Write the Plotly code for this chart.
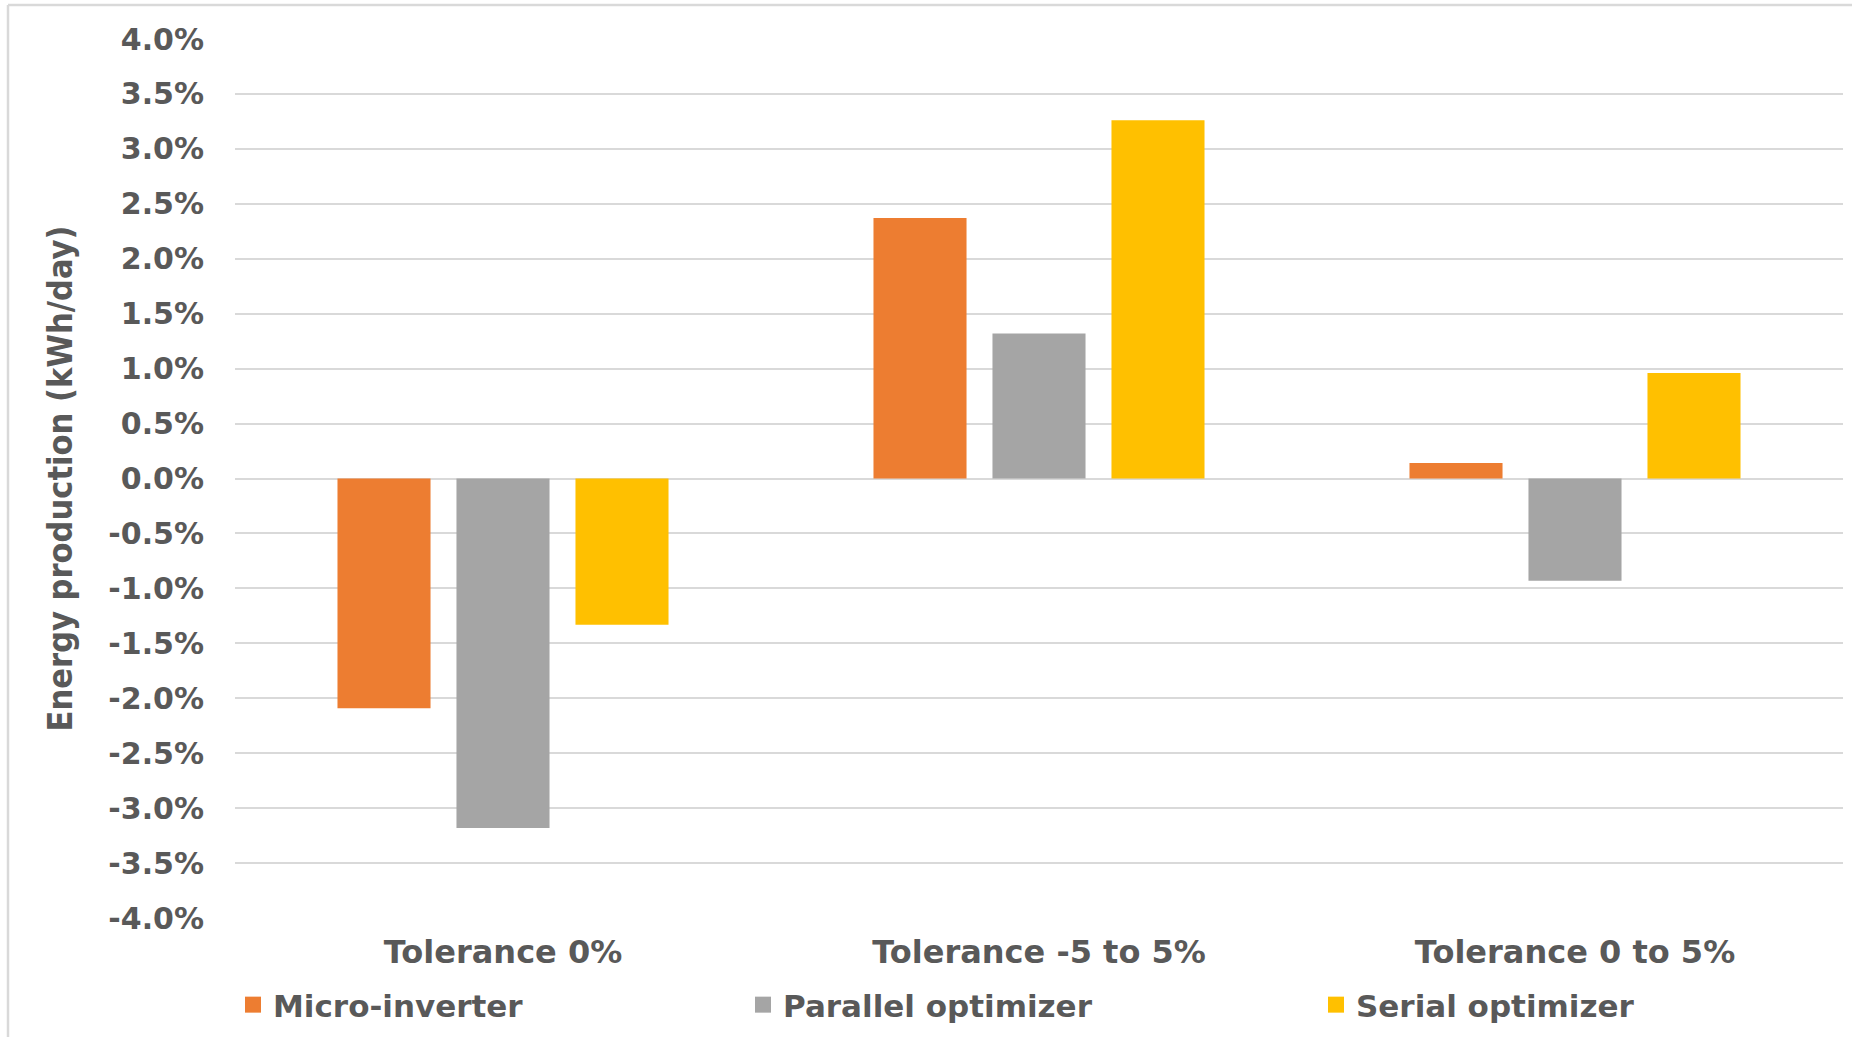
import plotly.graph_objects as go

# Daily energy production change per mismatch-tolerance scenario (%)
categories = ["Tolerance 0%", "Tolerance -5 to 5%", "Tolerance 0 to 5%"]
series_names = ["Micro-inverter", "Parallel optimizer", "Serial optimizer"]
micro_inverter = [-2.09, 2.37, 0.14]
parallel_optimizer = [-3.18, 1.32, -0.93]
serial_optimizer = [-1.33, 3.26, 0.96]

tick_values = [-4.0, -3.5, -3.0, -2.5, -2.0, -1.5, -1.0, -0.5, 0.0,
               0.5, 1.0, 1.5, 2.0, 2.5, 3.0, 3.5, 4.0]
tick_labels = [f"{v:.1f}%" for v in tick_values]

colors = ["#ED7D31", "#A5A5A5", "#FFC000"]
text_color = "#595959"
grid_color = "#D9D9D9"

W, H = 1852, 1037
M_L, M_R, M_T, M_B = 235, 9, 39, 119
plot_w = W - M_L - M_R
plot_h = H - M_T - M_B


def px_x(px):
    return (px - M_L) / plot_w


def px_y(py):
    return (H - M_B - py) / plot_h


fig = go.Figure()
legend_ids = ["legend", "legend2", "legend3"]
legend_left_px = [233, 743, 1316]
series_values = [micro_inverter, parallel_optimizer, serial_optimizer]
for name, vals, col, lg in zip(series_names, series_values, colors, legend_ids):
    fig.add_trace(go.Bar(
        x=categories, y=vals, name=name,
        marker=dict(color=col, line=dict(width=0)),
        showlegend=False,
        hoverinfo="skip",
    ))
    # legend key: a larger square swatch than the default bar key
    fig.add_trace(go.Scatter(
        x=[None], y=[None], mode="markers", name=name,
        marker=dict(symbol="square", size=18, color=col),
        legend=lg, hoverinfo="skip",
    ))

legend_font = dict(family="DejaVu Sans", size=31, color=text_color, weight="bold")
legend_common = dict(orientation="h", yanchor="middle", xanchor="left",
                     xref="container", yref="container",
                     font=legend_font, bgcolor="rgba(0,0,0,0)",
                     borderwidth=0, itemwidth=30, itemsizing="trace")
legend_y = 1 - 1005 / H

fig.update_layout(
    width=W, height=H,
    margin=dict(l=M_L, r=M_R, t=M_T, b=M_B, pad=0, autoexpand=False),
    paper_bgcolor="white", plot_bgcolor="white",
    barmode="group", bargap=0.334, bargroupgap=0.218,
    showlegend=True,
    legend=dict(x=legend_left_px[0] / W, y=legend_y, **legend_common),
    legend2=dict(x=legend_left_px[1] / W, y=legend_y, **legend_common),
    legend3=dict(x=legend_left_px[2] / W, y=legend_y, **legend_common),
    xaxis=dict(
        showgrid=False, showline=False, zeroline=False, ticks="",
        automargin=False,
        tickfont=dict(family="DejaVu Sans", size=32, color=text_color, weight="bold"),
        ticklabelstandoff=12,
    ),
    yaxis=dict(
        range=[-4.0, 4.0],
        tickvals=tick_values, ticktext=tick_labels,
        showgrid=True, gridcolor=grid_color, gridwidth=2,
        zeroline=False, showline=False, ticks="",
        automargin=False,
        tickfont=dict(family="DejaVu Sans", size=30, color=text_color, weight="bold"),
        ticklabelstandoff=30,
        title=dict(
            text="Energy production (kWh/day)",
            font=dict(family="DejaVu Sans Condensed, Liberation Sans", size=34,
                      color=text_color, weight="bold"),
            standoff=25,
        ),
    ),
    shapes=[
        # chart area frame (left and top edges)
        dict(type="line", xref="paper", yref="paper",
             x0=px_x(8), x1=px_x(8), y0=px_y(5), y1=px_y(1100),
             line=dict(color=grid_color, width=2.5)),
        dict(type="line", xref="paper", yref="paper",
             x0=px_x(8), x1=px_x(1900), y0=px_y(5), y1=px_y(5),
             line=dict(color=grid_color, width=2.5)),
    ],
)

fig.write_html("out.html")
